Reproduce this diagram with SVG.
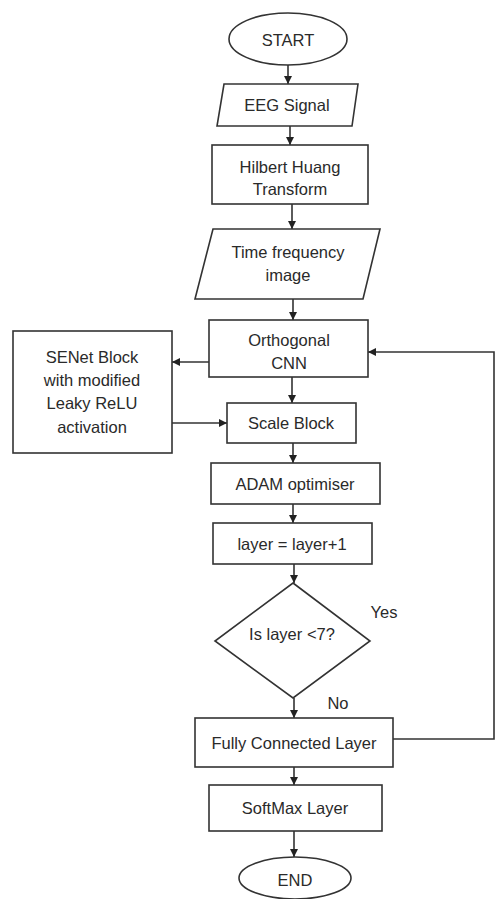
<svg xmlns="http://www.w3.org/2000/svg" width="497" height="899" viewBox="0 0 497 899">
<style>
.s{fill:#fff;stroke:#333;stroke-width:1.6}
.t{font-family:"Liberation Sans",Arial,sans-serif;font-size:16.5px;fill:#2a2a2a;text-anchor:middle;dominant-baseline:central}
.c{fill:none;stroke:#333;stroke-width:1.6}
</style>
<defs>
<marker id="a" viewBox="0 0 10 10" refX="10" refY="5" markerWidth="8" markerHeight="8" markerUnits="userSpaceOnUse" orient="auto">
<path d="M0,0 L10,5 L0,10 z" fill="#222"/>
</marker>
</defs>
<rect width="497" height="899" fill="#fff"/>
<g id="connectors">
<line class="c" x1="288" y1="65" x2="288" y2="84" marker-end="url(#a)"/>
<line class="c" x1="290" y1="126" x2="290" y2="145" marker-end="url(#a)"/>
<line class="c" x1="292" y1="204" x2="292" y2="229" marker-end="url(#a)"/>
<line class="c" x1="293" y1="299" x2="293" y2="320" marker-end="url(#a)"/>
<line class="c" x1="292" y1="377" x2="292" y2="403" marker-end="url(#a)"/>
<line class="c" x1="293" y1="443" x2="293" y2="463" marker-end="url(#a)"/>
<line class="c" x1="293" y1="504" x2="293" y2="523" marker-end="url(#a)"/>
<line class="c" x1="294" y1="564" x2="294" y2="583" marker-end="url(#a)"/>
<line class="c" x1="294" y1="698" x2="294" y2="718" marker-end="url(#a)"/>
<line class="c" x1="294" y1="767" x2="294" y2="785" marker-end="url(#a)"/>
<line class="c" x1="294" y1="831" x2="294" y2="857" marker-end="url(#a)"/>
<line class="c" x1="209" y1="362" x2="172" y2="362" marker-end="url(#a)"/>
<line class="c" x1="172" y1="423" x2="227" y2="423" marker-end="url(#a)"/>
<polyline class="c" points="393,739 494,739 494,352 368,352" marker-end="url(#a)"/>
<text class="t" x="384" y="612">Yes</text>
<text class="t" x="338" y="703">No</text>
</g>
<g id="start"><ellipse class="s" cx="288" cy="39" rx="59" ry="26"/><text class="t" x="288" y="40">START</text></g>
<g id="eeg"><polygon class="s" points="224,84 358,84 352,126 217,126"/><text class="t" x="287" y="105">EEG Signal</text></g>
<g id="hht"><rect class="s" x="212" y="145" width="156" height="59"/><text class="t" x="290" y="167">Hilbert Huang</text><text class="t" x="290" y="189">Transform</text></g>
<g id="tfi"><polygon class="s" points="213,229 380,229 363,299 195,299"/><text class="t" x="288" y="252">Time frequency</text><text class="t" x="288" y="275">image</text></g>
<g id="ocnn"><rect class="s" x="209" y="320" width="159" height="57"/><text class="t" x="289" y="340">Orthogonal</text><text class="t" x="289" y="363">CNN</text></g>
<g id="senet"><rect class="s" x="13" y="331" width="159" height="122"/><text class="t" x="92" y="357">SENet Block</text><text class="t" x="92" y="380">with modified</text><text class="t" x="92" y="403">Leaky ReLU</text><text class="t" x="92" y="427">activation</text></g>
<g id="scale"><rect class="s" x="227" y="403" width="129" height="40"/><text class="t" x="291" y="423">Scale Block</text></g>
<g id="adam"><rect class="s" x="211" y="463" width="169" height="41"/><text class="t" x="295" y="484">ADAM optimiser</text></g>
<g id="layer"><rect class="s" x="213" y="523" width="159" height="41"/><text class="t" x="292" y="544">layer = layer+1</text></g>
<g id="decision"><polygon class="s" points="293,583 370,641 293,698 215,641"/><text class="t" x="292" y="634">Is layer &lt;7?</text></g>
<g id="fc"><rect class="s" x="195" y="718" width="198" height="49"/><text class="t" x="294" y="743">Fully Connected Layer</text></g>
<g id="softmax"><rect class="s" x="209" y="785" width="173" height="46"/><text class="t" x="295" y="808">SoftMax Layer</text></g>
<g id="end"><ellipse class="s" cx="295" cy="878" rx="56" ry="21"/><text class="t" x="295" y="880">END</text></g>
</svg>
